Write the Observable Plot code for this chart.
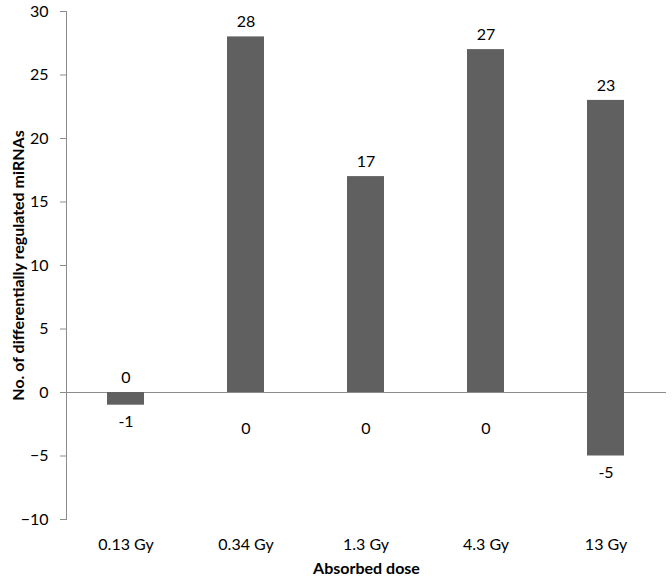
<!DOCTYPE html>
<html>
<head>
<meta charset="utf-8">
<script src="https://cdn.jsdelivr.net/npm/d3@7"></script>
<script src="https://cdn.jsdelivr.net/npm/@observablehq/plot@0.6"></script>
<style>
  html, body { margin: 0; padding: 0; background: white; }
</style>
</head>
<body>
<div id="chart"></div>
<script>
const doses = ["0.13 Gy", "0.34 Gy", "1.3 Gy", "4.3 Gy", "13 Gy"];
const upValues = [0, 28, 17, 27, 23];
const downValues = [-1, 0, 0, 0, -5];
const yTicks = [-10, -5, 0, 5, 10, 15, 20, 25, 30];
const yTitle = "No. of differentially regulated miRNAs";
const xTitle = "Absorbed dose";

const up = doses.map((d, i) => ({dose: d, value: upValues[i]}));
const down = doses.map((d, i) => ({dose: d, value: downValues[i]}));
const downNonZero = down.filter(d => d.value !== 0);
const downZero = down.filter(d => d.value === 0);

const barColor = "#606060";
const axisColor = "#8c8c8c";
const fs = 16;

const chart = Plot.plot({
  width: 672,
  height: 578,
  marginLeft: 66,
  marginRight: 6,
  marginTop: 11,
  marginBottom: 59,
  style: {fontFamily: "Lato, 'Open Sans', sans-serif", fontSize: fs + "px", background: "white", color: "#000"},
  x: {type: "band", domain: doses, paddingInner: 0.69, paddingOuter: 0.345},
  y: {domain: [-10, 30]},
  marks: [
    Plot.frame({anchor: "left", stroke: axisColor}),
    Plot.ruleY([0], {stroke: axisColor}),
    Plot.barY(up, {x: "dose", y: "value", fill: barColor}),
    Plot.barY(down, {x: "dose", y: "value", fill: barColor}),
    Plot.text(up, {x: "dose", y: "value", text: d => String(d.value), dy: -15, fill: "#000", fontSize: fs}),
    Plot.text(downNonZero, {x: "dose", y: "value", text: d => String(d.value), dy: 17, fill: "#000", fontSize: fs}),
    Plot.text(downZero, {x: "dose", y: "value", text: d => String(d.value), dy: 36, fill: "#000", fontSize: fs}),
    Plot.axisY({ticks: yTicks, tickSize: 6, tickPadding: 12, stroke: axisColor, fill: "#000", fontSize: fs,
      label: yTitle, labelAnchor: "center", labelArrow: "none", labelOffset: 54}),
    Plot.axisX({tickSize: 0, tickPadding: 19, fill: "#000", fontSize: fs,
      label: xTitle, labelAnchor: "center", labelArrow: "none", labelOffset: 54})
  ]
});

// Bold axis titles
chart.querySelectorAll("g[aria-label='y-axis label'] text, g[aria-label='x-axis label'] text").forEach(t => {
  t.setAttribute("font-weight", "bold");
});

document.getElementById("chart").appendChild(chart);
</script>
</body>
</html>
